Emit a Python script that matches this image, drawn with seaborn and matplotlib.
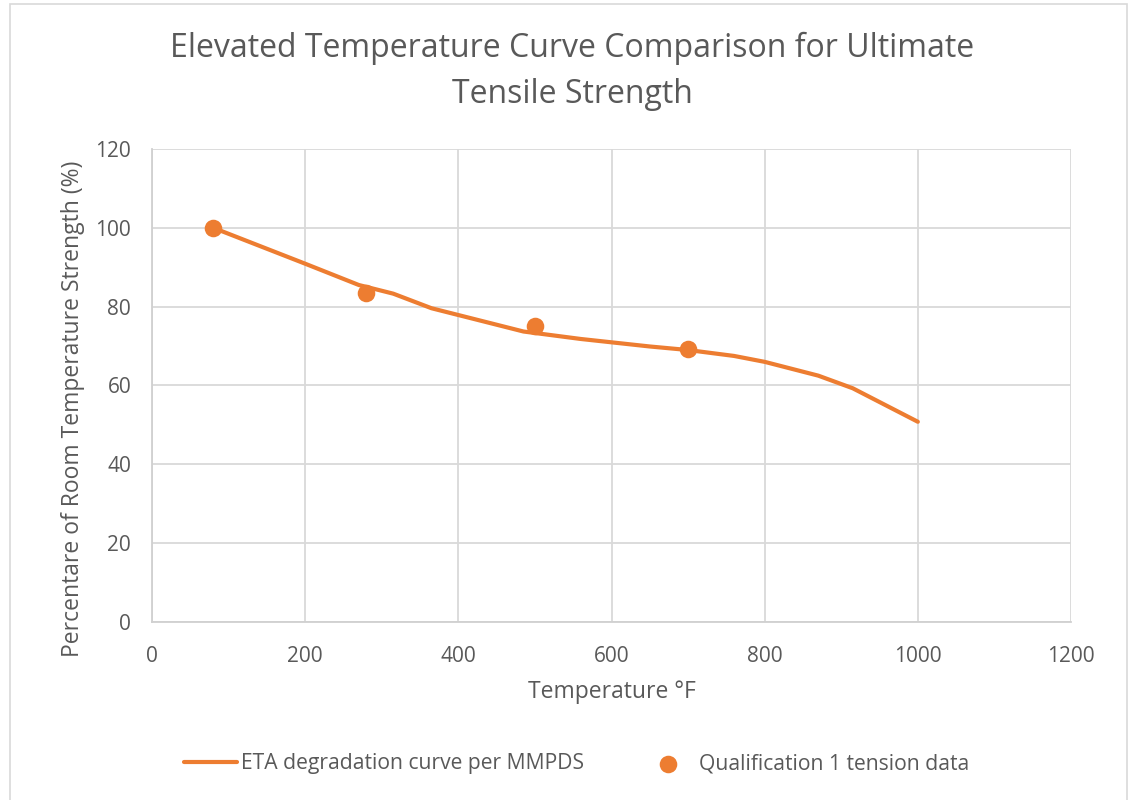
import matplotlib
matplotlib.use("Agg")
import matplotlib.pyplot as plt
import seaborn as sns
import pandas as pd
from matplotlib.patches import Rectangle

# Data
curve_temp = [80, 200, 270, 315, 365, 485, 560, 650, 700, 760, 800, 870, 915, 1000]
curve_pct = [100, 90.9, 85.5, 83.3, 79.6, 73.7, 71.8, 69.9, 69.0, 67.5, 66.0, 62.5, 59.3, 50.8]
qual_temp = [80, 280, 500, 700]
qual_pct = [100, 83.4, 75.0, 69.2]

curve_label = "ETA degradation curve per MMPDS"
qual_label = "Qualification 1 tension data"

sns.set_theme(style="white")
plt.rcParams['font.family'] = ['Open Sans', 'DejaVu Sans']

txt = "#595959"
orange = "#ED7D31"

fig = plt.figure(figsize=(11.35, 8), dpi=100)
ax = fig.add_axes([152/1135, 1-622/800, (1071-152)/1135, (622-149)/800])

df_curve = pd.DataFrame({"temp": curve_temp, "pct": curve_pct})
df_qual = pd.DataFrame({"temp": qual_temp, "pct": qual_pct})

sns.lineplot(data=df_curve, x="temp", y="pct", ax=ax, color=orange, linewidth=3,
             label=curve_label, sort=False, solid_joinstyle="round", solid_capstyle="round")
sns.scatterplot(data=df_qual, x="temp", y="pct", ax=ax, color=orange, s=160,
                edgecolor=orange, linewidth=0, label=qual_label, zorder=5)

ax.set_xlim(0, 1200)
ax.set_ylim(0, 120)
ax.set_xticks(range(0, 1201, 200))
ax.set_yticks(range(0, 121, 20))
ax.grid(True, color="#d9d9d9", linewidth=1.3)
ax.set_axisbelow(True)
for s in ["top", "right"]:
    ax.spines[s].set_visible(False)
for s in ["left", "bottom"]:
    ax.spines[s].set_color("#d0d0d0")
    ax.spines[s].set_linewidth(1.3)
ax.tick_params(axis="both", colors=txt, labelsize=15, length=0)
ax.tick_params(axis="x", pad=17)
ax.tick_params(axis="y", pad=15)

ax.set_xlabel("Temperature °F", fontsize=16.5, color=txt, labelpad=10)
ax.set_ylabel("Percentare of Room Temperature Strength (%)", fontsize=16.5, color=txt)
ax.yaxis.set_label_coords(-0.073, 0.45)

fig.text(0.504, 0.911, "Elevated Temperature Curve Comparison for Ultimate\nTensile Strength",
         ha="center", va="center", fontsize=23, color=txt, linespacing=1.5)

leg = ax.legend(loc="center", bbox_to_anchor=(0.462, -0.300), ncol=2, frameon=False,
                fontsize=15.2, handlelength=2.5, handletextpad=0.2, columnspacing=2.75,
                labelcolor=txt)

fig.patches.append(Rectangle((10/1135, -0.01), (1127-10)/1135, 1-4/800 + 0.01,
                             transform=fig.transFigure, fill=False,
                             edgecolor="#d9d9d9", linewidth=1.2))

fig.savefig("out.png", dpi=100, facecolor="white")
